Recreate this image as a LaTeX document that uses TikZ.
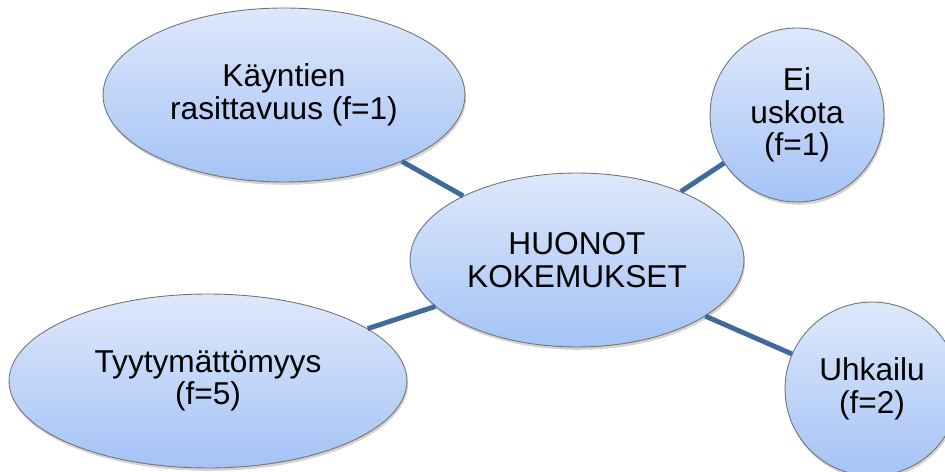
\documentclass[tikz,border=0pt]{standalone}
\usepackage{fontspec}
\setmainfont{Liberation Sans}
\usetikzlibrary{shapes.geometric,shadows}

\definecolor{bubbletop}{HTML}{DEE8FB}
\definecolor{bubblebot}{HTML}{A4C3F6}
\definecolor{linkblue}{HTML}{3F6A9C}

\tikzset{
  bubble/.style={ellipse, draw=black!55, line width=0.5pt, inner sep=0pt,
    top color=bubbletop, bottom color=bubblebot, align=center,
    font=\fontsize{18}{18.6}\selectfont,
    drop shadow={shadow xshift=0.6pt, shadow yshift=-1.6pt, opacity=0.35}},
  link/.style={draw=linkblue, line width=2.8pt}
}

\begin{document}
\begin{tikzpicture}[x=0.02cm, y=-0.02cm]
    % Fix the page size
    \useasboundingbox (0,0) rectangle (945,472);

    % Draw the bubbles
    \node[bubble, minimum width=6.68cm, minimum height=3.48cm] (hub) at (577,260) {HUONOT\\KOKEMUKSET};
    \node[bubble, minimum width=7.24cm, minimum height=3.48cm] (strain) at (284,95) {Käyntien\\rasittavuus (f=1)};
    \node[bubble, minimum width=3.48cm, minimum height=3.48cm] (disbelief) at (797,115) {Ei\\uskota\\(f=1)};
    \node[bubble, minimum width=7.96cm, minimum height=3.48cm] (discontent) at (208,381) {Tyytymättömyys\\(f=5)};
    \node[bubble, minimum width=3.48cm, minimum height=3.48cm] (threat) at (872,389) {Uhkailu\\(f=2)};

    % Draw the links
    \draw[link] (strain) -- (hub);
    \draw[link] (disbelief) -- (hub);
    \draw[link] (discontent) -- (hub);
    \draw[link] (threat) -- (hub);
\end{tikzpicture}
\end{document}
